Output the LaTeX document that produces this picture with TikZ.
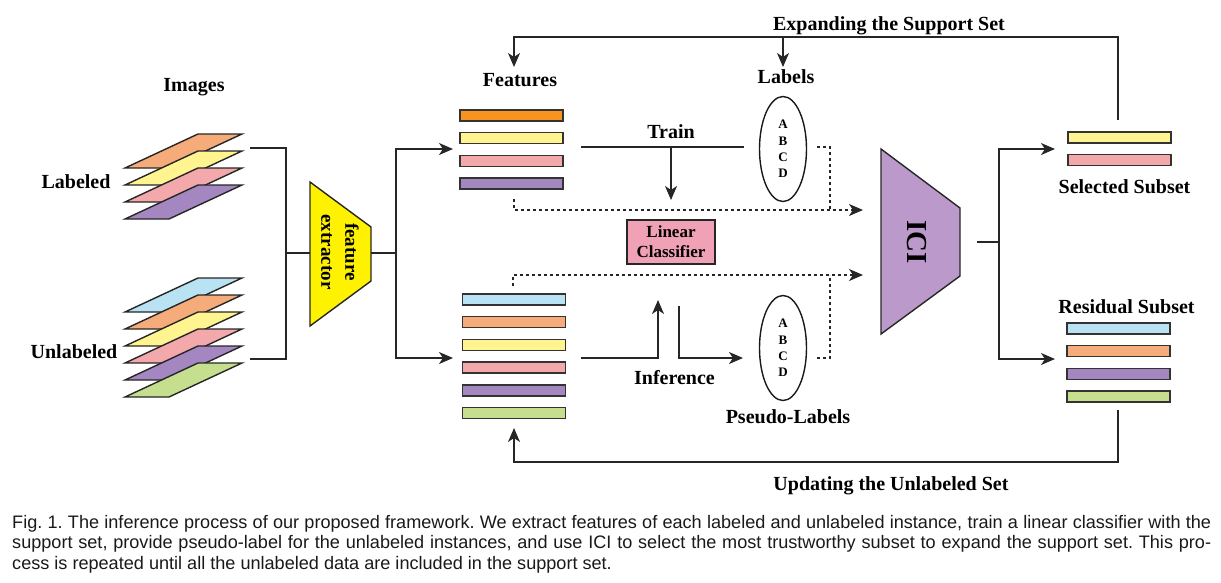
\documentclass[tikz,border=0pt]{standalone}
\usepackage{fontspec}
\setmainfont{Liberation Serif}
\newfontfamily\capfont{Liberation Sans}
\usetikzlibrary{positioning, arrows.meta, shapes.geometric}
\frenchspacing

\definecolor{img_orange}{HTML}{F5AB7A}
\definecolor{feat_orange}{HTML}{F7941D}
\definecolor{soft_yellow}{HTML}{FFF48F}
\definecolor{soft_pink}{HTML}{F3A8AC}
\definecolor{soft_purple}{HTML}{A486C0}
\definecolor{soft_blue}{HTML}{B9E2F3}
\definecolor{soft_green}{HTML}{C5DF8F}
\definecolor{fe_yellow}{HTML}{FFF200}
\definecolor{ici_purple}{HTML}{BB9ACB}
\definecolor{lc_pink}{HTML}{F0A1B6}

\begin{document}
\begin{tikzpicture}
    [
        x=1pt, y=-1pt, node distance=22.7pt, on grid,
        title/.style={font=\fontsize{20}{24}\selectfont\bfseries, inner sep=0pt, anchor=base},
        layer/.style={draw=black!85, line width=1.4pt, line join=miter},
        bar/.style={rectangle, draw=black!80, line width=1.5pt, minimum width=103pt, minimum height=11pt, inner sep=0pt},
        label_ell/.style={ellipse, draw=black!90, line width=1.4pt, minimum width=47pt, minimum height=105pt, inner sep=0pt, align=center, font=\fontsize{13}{16.3}\selectfont\bfseries},
        flow/.style={line width=1.4pt, draw=black!85},
        flow_arrow/.style={flow, -{Stealth[length=14pt, width=12pt, inset=4pt]}},
        dot_line/.style={flow, dash pattern=on 3pt off 3pt},
        dot_arrow/.style={flow_arrow, dash pattern=on 3pt off 3pt},
        caption/.style={font=\capfont\fontsize{18.1}{20}\selectfont, text=black!90, inner sep=0pt, anchor=base west},
    ]
        \useasboundingbox (0,0) rectangle (1221,582);

        % images
        \node[title] (images) at (194,91) {Images} ;
        \node[title] (labeled) at (76,188) {Labeled} ;
        \node[title] (unlabeled) at (74,358) {Unlabeled} ;
        \filldraw[layer, fill=img_orange] (125,168) -- ++(73,-34) -- ++(44,0) -- ++(-73,34) -- cycle ;
        \filldraw[layer, fill=soft_yellow] (125,185) -- ++(73,-34) -- ++(44,0) -- ++(-73,34) -- cycle ;
        \filldraw[layer, fill=soft_pink] (125,202) -- ++(73,-34) -- ++(44,0) -- ++(-73,34) -- cycle ;
        \filldraw[layer, fill=soft_purple] (125,219) -- ++(73,-34) -- ++(44,0) -- ++(-73,34) -- cycle ;
        \filldraw[layer, fill=soft_blue] (125,312) -- ++(73,-34) -- ++(44,0) -- ++(-73,34) -- cycle ;
        \filldraw[layer, fill=img_orange] (125,329) -- ++(73,-34) -- ++(44,0) -- ++(-73,34) -- cycle ;
        \filldraw[layer, fill=soft_yellow] (125,346) -- ++(73,-34) -- ++(44,0) -- ++(-73,34) -- cycle ;
        \filldraw[layer, fill=soft_pink] (125,363) -- ++(73,-34) -- ++(44,0) -- ++(-73,34) -- cycle ;
        \filldraw[layer, fill=soft_purple] (125,380) -- ++(73,-34) -- ++(44,0) -- ++(-73,34) -- cycle ;
        \filldraw[layer, fill=soft_green] (125,397) -- ++(73,-34) -- ++(44,0) -- ++(-73,34) -- cycle ;

        % feature extractor
        \filldraw[flow, fill=fe_yellow] (310,182) -- (371,227) -- (371,281) -- (310,326) -- cycle ;
        \node[rotate=-90, align=center, inner sep=0pt, font=\fontsize{19}{24}\selectfont\bfseries] (fe) at (340,252) {feature\\extractor} ;

        % features
        \node[title] (features) at (520,86) {Features} ;
        \node[bar, fill=feat_orange] (ft1) at (511.5,115.5) {} ;
        \node[bar, fill=soft_yellow] (ft2) [below = of ft1] {} ;
        \node[bar, fill=soft_pink] (ft3) [below = of ft2] {} ;
        \node[bar, fill=soft_purple] (ft4) [below = of ft3] {} ;
        \node[bar, fill=soft_blue] (fu1) at (514,299.5) {} ;
        \node[bar, fill=img_orange] (fu2) [below = of fu1] {} ;
        \node[bar, fill=soft_yellow] (fu3) [below = of fu2] {} ;
        \node[bar, fill=soft_pink] (fu4) [below = of fu3] {} ;
        \node[bar, fill=soft_purple] (fu5) [below = of fu4] {} ;
        \node[bar, fill=soft_green] (fu6) [below = of fu5] {} ;

        % labels and classifier
        \node[title] (labels) at (786,83) {Labels} ;
        \node[label_ell] (lab) at (783,149) {A\\B\\C\\D} ;
        \node[label_ell] (plab) at (783,348) {A\\B\\C\\D} ;
        \node[title] (pseudo) at (788,423) {Pseudo-Labels} ;
        \node[title] (train) at (671,138) {Train} ;
        \node[title] (inference) at (674.5,384) {Inference} ;
        \node[rectangle, draw=black!85, line width=1.4pt, fill=lc_pink, minimum width=88pt, minimum height=44pt, align=center, inner sep=0pt, font=\fontsize{17}{20}\selectfont\bfseries] (lc) at (671,242) {Linear\\Classifier} ;

        % ICI and subsets
        \filldraw[flow, fill=ici_purple] (881,149) -- (960,208) -- (960,276) -- (881,334) -- cycle ;
        \node[rotate=-90, inner sep=0pt, font=\fontsize{29}{32}\selectfont\bfseries] (ici) at (917,242) {ICI} ;
        \node[bar, fill=soft_yellow] (ss1) at (1119.5,137.5) {} ;
        \node[bar, fill=soft_pink] (ss2) [below = of ss1] {} ;
        \node[title] (selected) at (1124.5,193) {Selected Subset} ;
        \node[title] (residual) at (1126.5,313) {Residual Subset} ;
        \node[bar, fill=soft_blue] (rs1) at (1118.5,328.5) {} ;
        \node[bar, fill=img_orange] (rs2) [below = of rs1] {} ;
        \node[bar, fill=soft_purple] (rs3) [below = of rs2] {} ;
        \node[bar, fill=soft_green] (rs4) [below = of rs3] {} ;
        \node[title] (expanding) at (889,30) {Expanding the Support Set} ;
        \node[title] (updating) at (891,490) {Updating the Unlabeled Set} ;

        % connector ends
        \coordinate (lab_out) at (250,148) ;
        \coordinate (unl_out) at (250,359) ;
        \coordinate (fe_in) at (310,253) ;
        \coordinate (fe_out) at (371,253) ;
        \coordinate (ft_in) at (453,149) ;
        \coordinate (fu_in) at (453,358) ;
        \coordinate (train_l) at (581,147) ;
        \coordinate (train_r) at (744,147) ;
        \coordinate (train_j) at (671,147) ;
        \coordinate (lc_top) at (671,200) ;
        \coordinate (ft_dot) at (514,199) ;
        \coordinate (fu_dot) at (513,286) ;
        \coordinate (ici_up) at (863,210) ;
        \coordinate (ici_dn) at (863,275) ;
        \coordinate (lab_dot) at (817,147) ;
        \coordinate (plab_dot) at (817,358) ;
        \coordinate (join_up) at (830,210) ;
        \coordinate (join_dn) at (830,275) ;
        \coordinate (inf_a) at (581,358) ;
        \coordinate (inf_up) at (658,300) ;
        \coordinate (inf_b) at (679,306) ;
        \coordinate (inf_to) at (743,358) ;
        \coordinate (ici_out) at (977,242) ;
        \coordinate (ss_in) at (1055,149) ;
        \coordinate (rs_in) at (1055,359) ;
        \coordinate (ss_top) at (1118,120) ;
        \coordinate (rs_bot) at (1118,410) ;
        \coordinate (exp_j) at (783,37) ;
        \coordinate (exp_l) at (514,67) ;
        \coordinate (exp_m) at (783,67) ;
        \coordinate (upd_l) at (514,428) ;

        % connectors
        \draw[flow] (lab_out) -- ++(36,0) |- (fe_in) ;
        \draw[flow] (unl_out) -- ++(36,0) |- (fe_in) ;
        \draw[flow_arrow] (fe_out) -- ++(25,0) |- (ft_in) ;
        \draw[flow_arrow] (fe_out) -- ++(25,0) |- (fu_in) ;
        \draw[flow] (train_l) -- (train_r) ;
        \draw[flow_arrow] (train_j) -- (lc_top) ;
        \draw[dot_arrow] (ft_dot) |- (ici_up) ;
        \draw[dot_line] (lab_dot) -| (join_up) ;
        \draw[dot_arrow] (fu_dot) |- (ici_dn) ;
        \draw[dot_line] (plab_dot) -| (join_dn) ;
        \draw[flow_arrow] (inf_a) -| (inf_up) ;
        \draw[flow_arrow] (inf_b) |- (inf_to) ;
        \draw[flow_arrow] (ici_out) -- ++(22,0) |- (ss_in) ;
        \draw[flow_arrow] (ici_out) -- ++(22,0) |- (rs_in) ;
        \draw[flow_arrow] (ss_top) -- ++(0,-83) -| (exp_l) ;
        \draw[flow_arrow] (exp_j) -- (exp_m) ;
        \draw[flow_arrow] (rs_bot) -- ++(0,52) -| (upd_l) ;

        % caption
        \node[caption] (cap1) at (12,528) {\makebox[1199pt][s]{Fig. 1. The inference process of our proposed framework. We extract features of each labeled and unlabeled instance, train a linear classifier with the}} ;
        \node[caption] (cap2) at (12,548.7) {\makebox[1199pt][s]{support set, provide pseudo-label for the unlabeled instances, and use ICI to select the most trustworthy subset to expand the support set. This pro-}} ;
        \node[caption] (cap3) at (12,569.4) {cess is repeated until all the unlabeled data are included in the support set.} ;
    \end{tikzpicture}
\end{document}
